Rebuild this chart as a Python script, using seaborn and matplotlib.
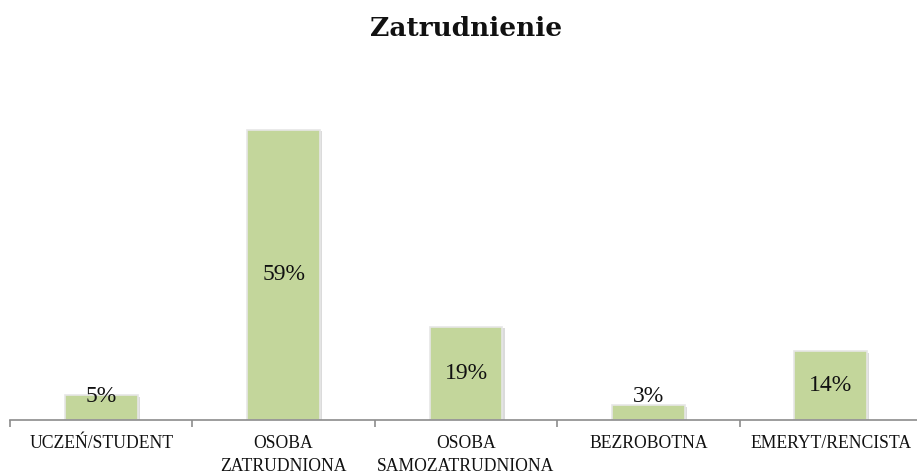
import pandas as pd
import numpy as np
import matplotlib.pyplot as plt
import matplotlib.patheffects as pe
import seaborn as sns

# data
categories = ['UCZEŃ/STUDENT', 'OSOBA\nZATRUDNIONA', 'OSOBA\nSAMOZATRUDNIONA', 'BEZROBOTNA', 'EMERYT/RENCISTA']
values = [5, 59, 19, 3, 14]
labels = ['5%', '59%', '19%', '3%', '14%']

sns.set_theme(style="white")
plt.rcParams['font.family'] = ['Liberation Serif', 'DejaVu Serif']

df = pd.DataFrame({'cat': categories, 'val': values})

fig = plt.figure(figsize=(9.17, 4.75), dpi=100)
# axes runs a bit past the right edge, like the original
ax = fig.add_axes([10 / 917, 55 / 475, 912 / 917, 350 / 475])

sns.barplot(data=df, x='cat', y='val', color='#C3D69B', saturation=1, width=0.4,
            edgecolor='#e6e6e6', linewidth=1.2, ax=ax)
for p in ax.patches:
    p.set_path_effects([pe.SimplePatchShadow(offset=(1.5, -1), shadow_rgbFace='#999999', alpha=0.35),
                        pe.Normal()])

# value labels, centred in bar (small bars get pushed up)
for i, (v, lab) in enumerate(zip(values, labels)):
    ax.text(i, max(v / 2, 4.7), lab, ha='center', va='center', fontsize=17, color='#111111')

ax.set_xlim(-0.5, 4.5)
ax.set_ylim(0, 71.2)
ax.set_xlabel('')
ax.set_ylabel('')
ax.set_yticks([])

for s in ['top', 'right', 'left']:
    ax.spines[s].set_visible(False)
ax.spines['bottom'].set_color('#8c8c8c')
ax.spines['bottom'].set_linewidth(1.2)

ax.set_xticks(range(len(categories)))
ax.set_xticklabels(categories, fontsize=12.7, color='#111111', linespacing=1.45, va='top')
ax.set_xticks(np.arange(-0.5, 5, 1), minor=True)
ax.tick_params(axis='x', which='major', length=0, pad=11)
ax.tick_params(axis='x', which='minor', length=5, width=1.2, color='#8c8c8c', direction='out', bottom=True)

fig.text(466 / 917, 1 - 28 / 475, 'Zatrudnienie', ha='center', va='center',
         fontsize=19, fontweight='bold', family='DejaVu Serif', color='#111111')

fig.savefig('out.png', dpi=100, facecolor='white')
